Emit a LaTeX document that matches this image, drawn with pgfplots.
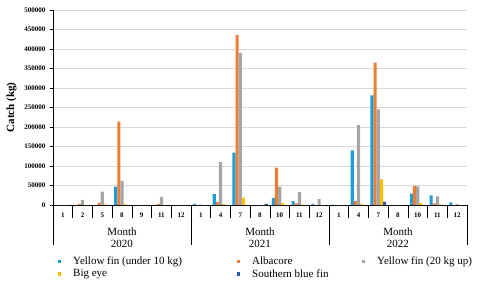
\documentclass[border=0pt]{standalone}
\usepackage{pgfplots}
\pgfplotsset{compat=1.18}
\usepackage{fontspec}
\setmainfont{Liberation Serif}
\definecolor{cblue}{RGB}{30,158,216}
\definecolor{corange}{RGB}{237,125,49}
\definecolor{cgray}{RGB}{165,165,165}
\definecolor{cyellow}{RGB}{255,192,0}
\definecolor{cdblue}{RGB}{46,89,170}
\pgfplotsset{sq/.style={legend image code/.code={\fill[#1] (0pt,-1.6pt) rectangle (3.2pt,1.6pt); \path[draw=none,fill=none] (0pt,0pt) rectangle (14pt,0.1pt);}}}
\begin{document}
\begin{tikzpicture}
\begin{axis}[
  scale only axis, width=414pt, height=195pt,
  clip mode=individual,
  ybar=0pt, bar width=3.15pt,
  xmin=-0.5, xmax=20.5, ymin=0, ymax=500000,
  axis x line=bottom, axis y line=left, axis line style={-, black, line width=0.7pt},
  ytick={0,50000,...,500000},
  scaled y ticks=false,
  /pgf/number format/fixed, /pgf/number format/1000 sep={},
  /pgf/number format/assume math mode=true,
  yticklabel style={font=\fontsize{7}{8}\selectfont\bfseries, xshift=-1pt},
  ytick style={black}, tick align=outside, major tick length=3pt,
  ymajorgrids, grid style={gray!30, line width=0.6pt},
  xtick={0,...,20},
  xticklabels={1,2,5,8,9,11,12,1,4,7,8,10,11,12,1,4,7,8,10,11,12},
  xticklabel style={font=\fontsize{7}{8}\selectfont\bfseries, yshift=-1.5pt},
  xtick style={draw=none},
  ylabel={\bfseries Catch (kg)},
  ylabel style={font=\fontsize{11}{12}\selectfont, at={(axis description cs:-0.1,0.5)}, anchor=center},
  legend columns=3,
  legend style={draw=none, fill=none, at={(0,0)}, anchor=north west, xshift=2pt, yshift=-49pt,
    font=\fontsize{11}{13}\selectfont, nodes={inner sep=1pt}, row sep=1pt},
]
\addplot[fill=cblue, draw=none, sq] coordinates {(0,0)(1,0)(2,0)(3,47000)(4,0)(5,0)(6,0)(7,3000)(8,28000)(9,134000)(10,0)(11,18000)(12,10000)(13,3000)(14,1000)(15,140000)(16,281000)(17,0)(18,29000)(19,25000)(20,7000)};
\addlegendentry{\makebox[163pt][l]{Yellow fin (under 10 kg)}}
\addplot[fill=corange, draw=none, sq] coordinates {(0,0)(1,2000)(2,6000)(3,214000)(4,0)(5,2000)(6,0)(7,0)(8,8000)(9,436000)(10,0)(11,96000)(12,4000)(13,0)(14,0)(15,10000)(16,365000)(17,0)(18,49000)(19,4000)(20,0)};
\addlegendentry{\makebox[109pt][l]{Albacore}}
\addplot[fill=cgray, draw=none, sq] coordinates {(0,0)(1,13000)(2,34000)(3,62000)(4,0)(5,21000)(6,0)(7,1000)(8,110000)(9,390000)(10,0)(11,47000)(12,33000)(13,15000)(14,0)(15,205000)(16,245000)(17,0)(18,48000)(19,22000)(20,2000)};
\addlegendentry{Yellow fin (20 kg up)}
\addplot[fill=cyellow, draw=none, sq] coordinates {(0,0)(1,0)(2,1500)(3,2000)(4,0)(5,0)(6,0)(7,0)(8,2000)(9,19000)(10,0)(11,5000)(12,1000)(13,0)(14,0)(15,3000)(16,66000)(17,0)(18,5000)(19,1000)(20,0)};
\addlegendentry{\makebox[163pt][l]{Big eye}}
\addplot[fill=cdblue, draw=none, sq] coordinates {(0,0)(1,0)(2,0)(3,0)(4,0)(5,0)(6,0)(7,0)(8,0)(9,0)(10,3000)(11,0)(12,0)(13,0)(14,0)(15,0)(16,8500)(17,0)(18,0)(19,0)(20,0)};
\addlegendentry{\makebox[109pt][l]{Southern blue fin}}
\pgfplotsinvokeforeach{0.5,1.5,2.5,3.5,4.5,5.5,7.5,8.5,9.5,10.5,11.5,12.5,14.5,15.5,16.5,17.5,18.5,19.5}{
  \draw[black, line width=0.7pt] (axis cs:#1,0) -- ([yshift=-13pt]axis cs:#1,0);
}
\pgfplotsinvokeforeach{-0.5,6.5,13.5,20.5}{
  \draw[black, line width=0.7pt] (axis cs:#1,0) -- ([yshift=-40pt]axis cs:#1,0);
}
\node[font=\fontsize{11}{12}\selectfont] at ([yshift=-27pt]axis cs:3,0) {Month};
\node[font=\fontsize{11}{12}\selectfont] at ([yshift=-39pt]axis cs:3,0) {2020};
\node[font=\fontsize{11}{12}\selectfont] at ([yshift=-27pt]axis cs:10,0) {Month};
\node[font=\fontsize{11}{12}\selectfont] at ([yshift=-39pt]axis cs:10,0) {2021};
\node[font=\fontsize{11}{12}\selectfont] at ([yshift=-27pt]axis cs:17,0) {Month};
\node[font=\fontsize{11}{12}\selectfont] at ([yshift=-39pt]axis cs:17,0) {2022};
\coordinate (O) at (rel axis cs:0,0);
\end{axis}
\pgfresetboundingbox
\path ([shift={(-53pt,-80pt)}]O) rectangle ([shift={(427pt,205pt)}]O);
\end{tikzpicture}
\end{document}
